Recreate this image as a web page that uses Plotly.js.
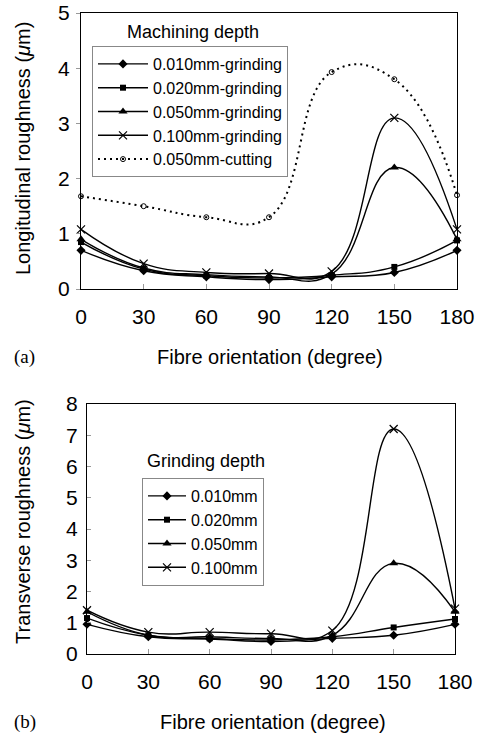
<!DOCTYPE html>
<html>
<head>
<meta charset="utf-8">
<script src="https://cdn.plot.ly/plotly-3.0.1.min.js"></script>
<style>html,body{margin:0;padding:0;background:#fff;}#chart{width:481px;height:739px;}</style>
</head>
<body>
<div id="chart"></div>
<script>
// Fibre orientation (degree)
var angles = [0, 30, 60, 90, 120, 150, 180];
var xTicks = [0, 30, 60, 90, 120, 150, 180];

// (a) Longitudinal roughness (um)
var longNames = ["0.010mm-grinding", "0.020mm-grinding", "0.050mm-grinding", "0.100mm-grinding", "0.050mm-cutting"];
var long010 = [0.70, 0.33, 0.22, 0.17, 0.22, 0.30, 0.70];
var long020 = [0.85, 0.36, 0.24, 0.20, 0.25, 0.40, 0.88];
var long050 = [0.90, 0.38, 0.26, 0.22, 0.27, 2.20, 0.90];
var long100 = [1.08, 0.46, 0.30, 0.28, 0.32, 3.10, 1.08];
var longCut = [1.68, 1.50, 1.30, 1.30, 3.93, 3.80, 1.70];

// (b) Transverse roughness (um)
var transNames = ["0.010mm", "0.020mm", "0.050mm", "0.100mm"];
var trans010 = [0.95, 0.55, 0.48, 0.40, 0.50, 0.60, 0.95];
var trans020 = [1.15, 0.60, 0.50, 0.45, 0.55, 0.85, 1.12];
var trans050 = [1.35, 0.60, 0.55, 0.50, 0.60, 2.90, 1.35];
var trans100 = [1.40, 0.70, 0.70, 0.65, 0.75, 7.20, 1.45];

var FONT = "Liberation Sans, Arial, sans-serif";
var markerStyles = [
  {symbol: "diamond", size: 7, color: "#000"},
  {symbol: "square", size: 6, color: "#000"},
  {symbol: "triangle-up", size: 8, color: "#000"},
  {symbol: "x-thin-open", size: 8, color: "#000", line: {color: "#000", width: 1.2}},
  {symbol: "circle-open", size: 5, color: "#000", line: {color: "#000", width: 1}}
];

function mk(x, y, name, mi, xa, ya, leg, dash, lw) {
  return {
    type: "scatter", mode: "lines+markers", x: x, y: y, name: name,
    xaxis: xa, yaxis: ya, legend: leg, cliponaxis: false,
    line: {color: "#000", width: lw || 1.4, shape: "spline", smoothing: 1.3, dash: dash || "solid"},
    marker: markerStyles[mi]
  };
}

var longSeries = [long010, long020, long050, long100];
var transSeries = [trans010, trans020, trans050, trans100];
var data = [];
for (var i = 0; i < 4; i++) data.push(mk(angles, longSeries[i], longNames[i], i, "x", "y", "legend"));
data.push(mk(angles, longCut, longNames[4], 4, "x", "y", "legend", "2px,4px", 2));
for (var j = 0; j < 4; j++) data.push(mk(angles, transSeries[j], transNames[j], j, "x2", "y2", "legend2"));

function xax(domain, anchor) {
  return {domain: domain, anchor: anchor, range: [0, 180], tickvals: xTicks, ticktext: xTicks.map(String),
    ticks: "inside", ticklen: 5, tickcolor: "#999", tickwidth: 1, ticklabelstandoff: 9,
    showline: true, linecolor: "#000", linewidth: 1, mirror: true, showgrid: false, zeroline: false,
    tickfont: {family: FONT, size: 21, color: "#000"}, fixedrange: true};
}
function yax(domain, anchor, max, ticksDir, standoff) {
  return {domain: domain, anchor: anchor, range: [0, max], dtick: 1, tick0: 0,
    ticks: ticksDir, ticklen: 4, tickcolor: "#999", tickwidth: 1, ticklabelstandoff: standoff,
    showline: true, linecolor: "#000", linewidth: 1, mirror: true, showgrid: false, zeroline: false,
    tickfont: {family: FONT, size: 21, color: "#000"}, fixedrange: true};
}

var W = 481, H = 739;
function px(x) { return x / W; }
function py(y) { return 1 - y / H; }

var layout = {
  width: W, height: H, margin: {l: 0, r: 0, t: 0, b: 0},
  paper_bgcolor: "#fff", plot_bgcolor: "#fff", showlegend: true,
  font: {family: FONT, color: "#000"},
  xaxis: xax([px(81), px(457)], "y"),
  yaxis: yax([py(289), py(13)], "x", 5, "outside", 2),
  xaxis2: xax([px(87), px(455)], "y2"),
  yaxis2: yax([py(654), py(404)], "x2", 8, "inside", 4),
  legend: {x: px(92), y: py(46), xanchor: "left", yanchor: "top", bgcolor: "#fff",
    bordercolor: "#888", borderwidth: 1, font: {family: FONT, size: 16, color: "#000"},
    tracegroupgap: 0, itemwidth: 50},
  legend2: {x: px(142), y: py(478), xanchor: "left", yanchor: "top", bgcolor: "#fff",
    bordercolor: "#888", borderwidth: 1, font: {family: FONT, size: 16, color: "#000"},
    tracegroupgap: 0, itemwidth: 38},
  annotations: [
    {text: "Machining depth", x: px(193), y: py(32), xref: "paper", yref: "paper", showarrow: false,
      font: {family: FONT, size: 18}, xanchor: "center", yanchor: "middle"},
    {text: "Grinding depth", x: px(206), y: py(461), xref: "paper", yref: "paper", showarrow: false,
      font: {family: FONT, size: 18}, xanchor: "center", yanchor: "middle"},
    {text: "Longitudinal roughness (<i>μ</i>m)", x: px(23), y: py(149), xref: "paper", yref: "paper",
      showarrow: false, textangle: -90, font: {family: FONT, size: 20}, xanchor: "center", yanchor: "middle"},
    {text: "Transverse roughness (<i>μ</i>m)", x: px(23), y: py(522), xref: "paper", yref: "paper",
      showarrow: false, textangle: -90, font: {family: FONT, size: 20}, xanchor: "center", yanchor: "middle"},
    {text: "Fibre orientation (degree)", x: px(270), y: py(357), xref: "paper", yref: "paper",
      showarrow: false, font: {family: FONT, size: 20}, xanchor: "center", yanchor: "middle"},
    {text: "Fibre orientation (degree)", x: px(273), y: py(722), xref: "paper", yref: "paper",
      showarrow: false, font: {family: FONT, size: 20}, xanchor: "center", yanchor: "middle"},
    {text: "(a)", x: px(24), y: py(357), xref: "paper", yref: "paper", showarrow: false,
      font: {family: "Liberation Serif, Times New Roman, serif", size: 19}, xanchor: "center", yanchor: "middle"},
    {text: "(b)", x: px(25), y: py(722), xref: "paper", yref: "paper", showarrow: false,
      font: {family: "Liberation Serif, Times New Roman, serif", size: 19}, xanchor: "center", yanchor: "middle"}
  ]
};

Plotly.newPlot("chart", data, layout, {displayModeBar: false, staticPlot: true});
</script>
</body>
</html>
